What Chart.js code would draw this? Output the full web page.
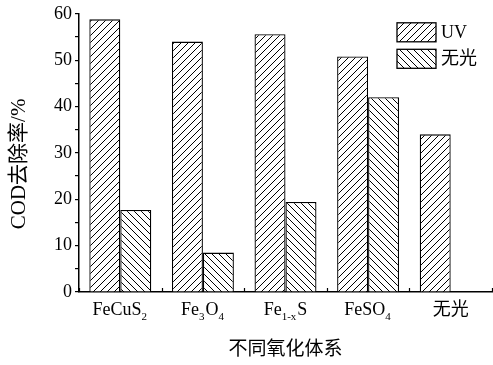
<!DOCTYPE html>
<html>
<head>
<meta charset="utf-8">
<script src="https://cdn.jsdelivr.net/npm/chart.js@4/dist/chart.umd.min.js"></script>
<style>
  html, body { margin: 0; padding: 0; background: #fff; }
  #wrap { width: 493px; height: 365px; }
</style>
</head>
<body>
<div id="wrap"><canvas id="chart"></canvas></div>
<script>
// categorías (_x o _{..} = subíndice)
const categories = ['FeCuS_2', 'Fe_3O_4', 'Fe_{1-x}S', 'FeSO_4', '无光'];
const seriesNames = ['UV', '无光'];
const uvValues = [58.8, 54.0, 55.6, 50.8, 34.0];
const darkValues = [17.7, 8.5, 19.4, 42.0, null];
const yTicks = [0, 10, 20, 30, 40, 50, 60];
const yTitle = 'COD去除率/%';

const serif = '"Liberation Serif", "Times New Roman", "Noto Sans CJK SC", serif';

// patrón de rayado: dir 1 = '/', dir -1 = '\'
function hatch(dir) {
  const s = 7;
  const c = document.createElement('canvas');
  c.width = s; c.height = s;
  const g = c.getContext('2d');
  g.fillStyle = '#fff';
  g.fillRect(0, 0, s, s);
  g.strokeStyle = '#000';
  g.lineWidth = 1;
  g.beginPath();
  for (let k = -1; k <= 1; k++) {
    if (dir > 0) {
      g.moveTo(k * s, s); g.lineTo(k * s + s, 0);
    } else {
      g.moveTo(k * s, 0); g.lineTo(k * s + s, s);
    }
  }
  g.stroke();
  return g.createPattern(c, 'repeat');
}

const ctx = document.getElementById('chart').getContext('2d');
const pats = [hatch(1), hatch(-1)];

// dibuja texto con subíndices
function drawRich(g, text, cx, baseline, size) {
  const parts = [];
  const re = /_\{([^}]*)\}|_(.)|([^_]+)/g;
  let m;
  while ((m = re.exec(text)) !== null) {
    if (m[1] !== undefined) parts.push({ t: m[1], sub: true });
    else if (m[2] !== undefined) parts.push({ t: m[2], sub: true });
    else parts.push({ t: m[3], sub: false });
  }
  const fontOf = p => (p.sub ? Math.round(size * 0.62) : size) + 'px ' + serif;
  let w = 0;
  parts.forEach(p => { g.font = fontOf(p); p.w = g.measureText(p.t).width + (p.sub ? 1 : 0); w += p.w; });
  let x = cx - w / 2;
  g.textAlign = 'left';
  g.textBaseline = 'alphabetic';
  parts.forEach(p => {
    g.font = fontOf(p);
    g.fillText(p.t, x, baseline + (p.sub ? 5 : 0));
    x += p.w;
  });
}

const extras = {
  id: 'extras',
  afterDraw(chart) {
    const g = chart.ctx;
    const xs = chart.scales.x;
    const area = chart.chartArea;
    const step = xs.getPixelForValue(1) - xs.getPixelForValue(0);
    g.save();
    g.fillStyle = '#000';
    g.strokeStyle = '#000';

    // marcas del eje x hacia dentro, entre categorías
    g.lineWidth = 1.2;
    g.beginPath();
    for (let i = 0; i <= categories.length; i++) {
      const x = Math.round(xs.getPixelForValue(i) - step / 2) + 0.5;
      g.moveTo(x, area.bottom);
      g.lineTo(x, area.bottom - 4);
    }
    g.stroke();

    // etiquetas de categoría
    categories.forEach((c, i) => {
      drawRich(g, c, xs.getPixelForValue(i), area.bottom + 23, 18);
    });

    // título del eje y (girado)
    g.save();
    g.translate(19, (area.top + area.bottom) / 2 + 11);
    g.rotate(-Math.PI / 2);
    g.font = '21px ' + serif;
    g.textAlign = 'center';
    g.textBaseline = 'middle';
    g.fillText(yTitle, 0, 0);
    g.restore();

    // leyenda
    const lx = area.right - 95, ly = area.top + 9;
    seriesNames.forEach((n, i) => {
      const y = ly + i * 26.5;
      g.fillStyle = pats[i];
      g.fillRect(lx, y, 39, 19);
      g.lineWidth = 1.3;
      g.strokeRect(lx, y, 39, 19);
      g.fillStyle = '#000';
      g.font = '18px ' + serif;
      g.textAlign = 'left';
      g.textBaseline = 'middle';
      g.fillText(n, lx + 44, y + 10);
    });
    g.restore();
  }
};

new Chart(ctx, {
  type: 'bar',
  data: {
    labels: categories,
    datasets: [
      { label: seriesNames[0], data: uvValues, backgroundColor: pats[0], borderColor: '#000', borderWidth: 1.3 },
      { label: seriesNames[1], data: darkValues, backgroundColor: pats[1], borderColor: '#000', borderWidth: 1.3 }
    ]
  },
  options: {
    responsive: true,
    maintainAspectRatio: false,
    animation: false,
    devicePixelRatio: 1,
    categoryPercentage: 0.75,
    barPercentage: 1,
    layout: { padding: { top: 13, right: 1, left: 0, bottom: 0 } },
    plugins: { legend: { display: false }, tooltip: { enabled: false } },
    scales: {
      x: {
        grid: { display: false, drawTicks: false },
        border: { display: true, color: '#000', width: 1.5 },
        ticks: { display: false },
        title: {
          display: true, text: '不同氧化体系', color: '#000',
          font: { family: serif, size: 19 }, padding: { top: 0, bottom: 4 }
        },
        afterFit(s) { s.height = 73; }
      },
      y: {
        min: 0, max: 60,
        grid: { drawOnChartArea: false, drawTicks: true, tickLength: 4, color: '#000', lineWidth: 1.2 },
        border: { display: true, color: '#000', width: 1.5 },
        ticks: {
          stepSize: 5, autoSkip: false, padding: 3, color: '#000',
          font: { family: serif, size: 18 },
          callback: v => (yTicks.includes(v) ? String(v) : '')
        },
        afterFit(s) { s.width = 79; }
      }
    }
  },
  plugins: [extras]
});
</script>
</body>
</html>
